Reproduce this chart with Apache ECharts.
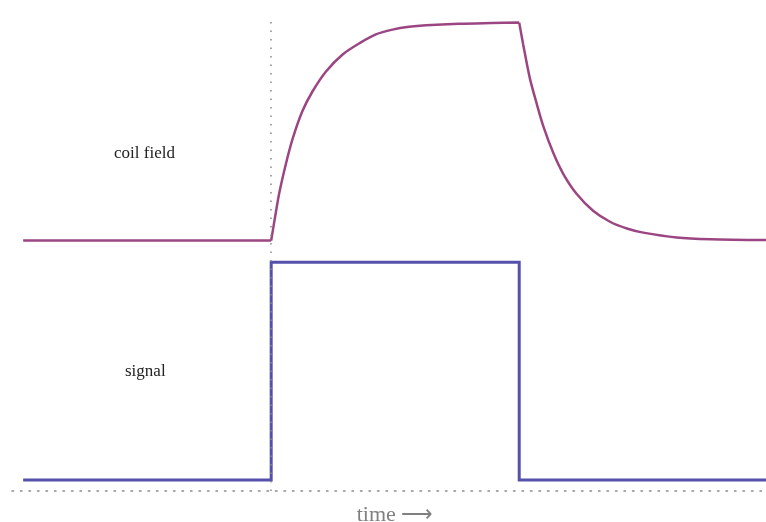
<!DOCTYPE html>
<html>
<head>
<meta charset="utf-8">
<script src="https://cdn.jsdelivr.net/npm/echarts@6/dist/echarts.min.js"></script>
<style>html,body{margin:0;padding:0;background:#fff}#c{width:766px;height:522px}</style>
</head>
<body>
<div id="c"></div>
<script>
// time axis (switch on at t=1, off at t=2)
var timeRange = [-0.045, 2.995];
// signal: square pulse
var signalT = [0, 1, 1, 2, 2, 2.995];
var signalV = [0, 0, 1, 1, 0, 0];
// coil field (normalized 0..1): off phase, rise phase, decay phase
var coilOffT = [0, 1.0];
var coilOffV = [0, 0];
var coilRiseT = [1.0, 1.016, 1.032, 1.059, 1.086, 1.126, 1.167, 1.221, 1.288, 1.355, 1.422, 1.489, 1.556, 1.624, 1.758, 1.891, 2.0];
var coilRiseV = [0, 0.11, 0.215, 0.35, 0.465, 0.594, 0.685, 0.776, 0.854, 0.905, 0.946, 0.968, 0.981, 0.988, 0.995, 0.998, 1.0];
var coilFallT = [2.0, 2.016, 2.043, 2.071, 2.097, 2.138, 2.178, 2.232, 2.299, 2.366, 2.434, 2.5, 2.635, 2.77, 2.995];
var coilFallV = [1.0, 0.9, 0.744, 0.626, 0.525, 0.40, 0.305, 0.213, 0.135, 0.086, 0.055, 0.036, 0.014, 0.006, 0.002];
var coilOffset = 1.1; // stacked above the signal trace
var labels = ['coil field', 'signal'];

function pts(ts, vs, off) { return ts.map(function (t, i) { return [t, vs[i] + off]; }); }
var coilData = pts(coilOffT, coilOffV, coilOffset).concat(['-'], pts(coilRiseT, coilRiseV, coilOffset), ['-'], pts(coilFallT, coilFallV, coilOffset));

var chart = echarts.init(document.getElementById('c'), null, {renderer: 'canvas'});
var dots = {color: '#8a8a8a', width: 1.5, type: [1.5, 7]};
var lblStyle = {fontFamily: 'Liberation Serif', fontSize: 17, fontWeight: 'normal', color: '#222'};
chart.setOption({
  animation: false,
  title: [
    {text: labels[0], left: 114, top: 145, padding: 0, textStyle: lblStyle},
    {text: labels[1], left: 125, top: 363, padding: 0, textStyle: lblStyle}
  ],
  grid: {left: 12, right: 0, top: 15, bottom: 31, outerBoundsMode: 'none', containLabel: false},
  xAxis: {
    type: 'value', min: timeRange[0], max: timeRange[1],
    name: 'time \u27F6', nameLocation: 'middle', nameGap: 13,
    nameTextStyle: {fontFamily: 'Liberation Serif', fontSize: 22, color: '#808080', padding: [0, 0, 0, 12]},
    axisLine: {show: true, onZero: false, lineStyle: dots},
    axisTick: {show: false}, axisLabel: {show: false}, splitLine: {show: false}
  },
  yAxis: {
    type: 'value', min: -0.05, max: 2.135, show: false, splitLine: {show: false}
  },
  series: [
    {
      type: 'line', name: 'coil field', showSymbol: false, symbol: 'none',
      smooth: 0.3, connectNulls: false,
      data: coilData,
      lineStyle: {color: '#9b4683', width: 2.5},
      itemStyle: {color: '#9b4683'}
    },
    {
      type: 'line', name: 'signal', showSymbol: false, symbol: 'none',
      data: pts(signalT, signalV, 0),
      lineStyle: {color: '#5450ac', width: 3, join: 'miter'},
      itemStyle: {color: '#5450ac'},
      z: 3,
      markLine: {
        silent: true, symbol: 'none', label: {show: false},
        lineStyle: dots,
        data: [{xAxis: 1}]
      }
    }
  ]
});
</script>
</body>
</html>
